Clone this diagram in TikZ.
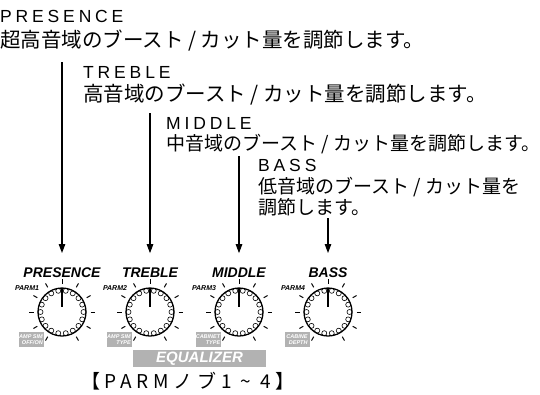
\documentclass[tikz,border=0pt]{standalone}
\usepackage{fontspec}
\setmainfont{Liberation Sans}
\newfontfamily\jpfont{Noto Sans CJK JP}
\usetikzlibrary{arrows.meta}
\definecolor{panelgray}{gray}{0.7}
\tikzset{title/.style={anchor=base west, inner sep=0, font=\fontsize{17.5}{18}\selectfont\addfontfeature{LetterSpace=22}},
  desc/.style={anchor=base west, inner sep=0, font=\jpfont\fontsize{19}{20}\selectfont},
  wide/.style={font=\jpfont\fontsize{20.5}{21}\selectfont},
  heading/.style={anchor=base, inner sep=0, font=\fontsize{14}{14}\selectfont\bfseries\itshape},
  parm/.style={inner sep=0, font=\fontsize{7}{7}\selectfont\bfseries\itshape},
  tag/.style={fill=panelgray, text=white, minimum width=25pt, minimum height=15pt, inner sep=0, align=right, font=\fontsize{5.5}{5.8}\selectfont\bfseries\itshape},
  pointer/.style={-{Triangle[length=9pt, width=6.5pt]}, line width=1.1pt, shorten >=14pt},
  knob/.pic={
    \draw [line width=1.3pt] (0,0) circle [radius=24pt];
    \foreach \a in {0,20,...,340} \draw [line width=0.6pt] (\a:21.5) circle [radius=2.5pt];
    \foreach \a in {-240,-210,...,60} \draw [line width=1pt] (\a:28.5) -- (\a:33);
    \draw [line width=2.8pt] (0,-24) -- (0,-5);
  }}

\begin{document}
\begin{tikzpicture}[x=1pt, y=-1pt]
      \useasboundingbox (0,0) rectangle (540,394);

      % what each knob does
      \node [title] (presence) at (0,22) {PRESENCE};
      \node [desc, wide] (presence-d) at (0,47) {超高音域のブースト / カット量を調節します。};
      \node [title] (treble) at (83,78) {TREBLE};
      \node [desc, wide] (treble-d) at (83,101) {高音域のブースト / カット量を調節します。};
      \node [title] (middle) at (166,129) {MIDDLE};
      \node [desc] (middle-d) at (166,150) {中音域のブースト / カット量を調節します。};
      \node [title] (bass) at (258,171) {BASS};
      \node [desc] (bass-d) at (258,193) {低音域のブースト / カット量を};
      \node [desc] (bass-d2) at (258,214) {調節します。};

      % the four knobs
      \pic at (62,312) {knob};
      \pic at (150,312) {knob};
      \pic at (239,312) {knob};
      \pic at (328,312) {knob};
      \node [heading] (h1) at (62,277) {PRESENCE};
      \node [heading] (h2) at (150,277) {TREBLE};
      \node [heading] (h3) at (239,277) {MIDDLE};
      \node [heading] (h4) at (328,277) {BASS};
      \node [parm] (p1) at (27,288) {PARM1};
      \node [parm] (p2) at (115,288) {PARM2};
      \node [parm] (p3) at (204,288) {PARM3};
      \node [parm] (p4) at (293,288) {PARM4};
      \node [tag] (g1) at (31,339.5) {AMP SIM\\OFF/ON};
      \node [tag] (g2) at (119,339.5) {AMP SIM\\TYPE};
      \node [tag] (g3) at (208,339.5) {CABINET\\TYPE};
      \node [tag] (g4) at (297,339.5) {CABINE\\DEPTH};
      \node [tag, minimum width=133pt, minimum height=17pt, font=\fontsize{15}{15}\selectfont\bfseries\itshape] (eq) at (199.5,358.5) {EQUALIZER};
      \node [desc, anchor=base, font=\jpfont\fontsize{19}{20}\selectfont\addfontfeature{LetterSpace=25}] (caption) at (188,388) {【PARMノブ1 \textasciitilde\ 4】};

      \coordinate (s1) at (62,62);
      \coordinate (s2) at (150,113);
      \coordinate (s3) at (239,156);
      \coordinate (s4) at (328,218);
      \draw [pointer] (s1) -- (h1.north);
      \draw [pointer] (s2) -- (h2.north);
      \draw [pointer] (s3) -- (h3.north);
      \draw [pointer] (s4) -- (h4.north);
    \end{tikzpicture}
\end{document}
